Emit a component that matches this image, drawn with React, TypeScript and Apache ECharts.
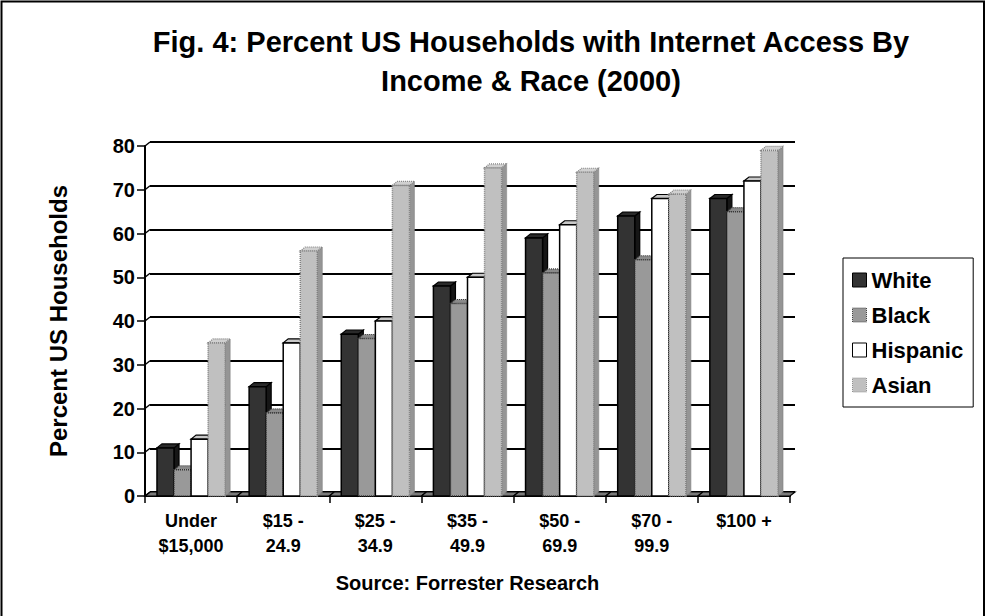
import React, { useEffect, useRef } from "react";
import * as echarts from "echarts";

// Income brackets along the category axis
const CATEGORIES = [
  "Under\n$15,000",
  "$15 -\n24.9",
  "$25 -\n34.9",
  "$35 -\n49.9",
  "$50 -\n69.9",
  "$70 -\n99.9",
  "$100 +",
];

// Percent of households with internet access, per group
const WHITE = [11, 25, 37, 48, 59, 64, 68];
const BLACK = [6, 19, 36, 44, 51, 54, 65];
const HISPANIC = [13, 35, 40, 50, 62, 68, 72];
const ASIAN = [35, 56, 71, 75, 74, 69, 79];

const SERIES_NAMES = ["White", "Black", "Hispanic", "Asian"];
const SERIES_VALUES = [WHITE, BLACK, HISPANIC, ASIAN];

const Y_MIN = 0;
const Y_MAX = 80;
const Y_STEP = 10;
const Y_TICKS: number[] = [];
for (let t = Y_MIN; t <= Y_MAX; t += Y_STEP) Y_TICKS.push(t);

const FONT = '"Liberation Sans", Arial, Helvetica, sans-serif';

// 3D depth of the bars and the back wall
const DX = 5;
const DY = 4;
const BAR_FRAC = 0.185;

type FaceStyle = { fill: string; stroke: string; lineWidth: number; lineDash?: number[] };
type BarStyle = { front: FaceStyle; side: FaceStyle; top: FaceStyle };

const BAR_STYLES: BarStyle[] = [
  {
    front: { fill: "#333333", stroke: "#000000", lineWidth: 1.5 },
    side: { fill: "#161616", stroke: "#000000", lineWidth: 1.2 },
    top: { fill: "#2a2a2a", stroke: "#000000", lineWidth: 1.2 },
  },
  {
    front: { fill: "#999999", stroke: "#333333", lineWidth: 1.5, lineDash: [1, 1] },
    side: { fill: "#6e6e6e", stroke: "#333333", lineWidth: 1.2, lineDash: [1, 1] },
    top: { fill: "#8a8a8a", stroke: "#333333", lineWidth: 1.2, lineDash: [1, 1] },
  },
  {
    front: { fill: "#ffffff", stroke: "#000000", lineWidth: 1.5 },
    side: { fill: "#e6e6e6", stroke: "#000000", lineWidth: 1.2 },
    top: { fill: "#c8c8c8", stroke: "#000000", lineWidth: 1.2 },
  },
  {
    front: { fill: "#c0c0c0", stroke: "#808080", lineWidth: 1.5, lineDash: [1, 1] },
    side: { fill: "#959595", stroke: "#808080", lineWidth: 1.2, lineDash: [1, 1] },
    top: { fill: "#d0d0d0", stroke: "#808080", lineWidth: 1.2, lineDash: [1, 1] },
  },
];

const LEGEND_ICON_STYLES = [
  { color: "#333333", borderColor: "#000000", borderWidth: 1 },
  { color: "#999999", borderColor: "#444444", borderWidth: 1, borderType: "dotted" },
  { color: "#ffffff", borderColor: "#000000", borderWidth: 1 },
  { color: "#c0c0c0", borderColor: "#909090", borderWidth: 1, borderType: "dotted" },
];

function makeBarRenderer(seriesIdx: number) {
  const st = BAR_STYLES[seriesIdx];
  return (params: any, api: any) => {
    const ci = api.value(0);
    const v = api.value(1);
    const base = api.coord([ci, 0]);
    const top = api.coord([ci, v]);
    const band = api.size([1, 0])[0];
    const w = band * BAR_FRAC;
    const groupLeft = base[0] - band / 2 + (band - 4 * w) / 2;
    const x0 = groupLeft + seriesIdx * w;
    const x1 = x0 + w;
    const yb = base[1];
    const yt = top[1];
    return {
      type: "group",
      children: [
        {
          type: "polygon",
          shape: { points: [[x1, yb], [x1 + DX, yb - DY], [x1 + DX, yt - DY], [x1, yt]] },
          style: st.side,
        },
        {
          type: "polygon",
          shape: { points: [[x0, yt], [x1, yt], [x1 + DX, yt - DY], [x0 + DX, yt - DY]] },
          style: st.top,
        },
        {
          type: "rect",
          shape: { x: x0, y: yt, width: w, height: yb - yt },
          style: st.front,
        },
      ],
    };
  };
}

// Floor slab seen between the bar groups
function renderFloor(params: any, api: any) {
  const ci = api.value(0);
  const base = api.coord([ci, 0]);
  const band = api.size([1, 0])[0];
  const x0 = base[0] - band / 2;
  const x1 = base[0] + band / 2;
  const y = base[1];
  return {
    type: "polygon",
    shape: { points: [[x0, y], [x1, y], [x1 + DX, y - DY], [x0 + DX, y - DY]] },
    style: { fill: "#7a7a7a", stroke: "#000000", lineWidth: 1.2 },
  };
}

// Short slanted edge joining each front tick to its gridline on the back wall
function renderWallEdge(params: any, api: any) {
  const v = api.value(1);
  const p = api.coord([0, v]);
  const band = api.size([1, 0])[0];
  const x = p[0] - band / 2;
  return {
    type: "line",
    shape: { x1: x, y1: p[1], x2: x + DX, y2: p[1] - DY },
    style: { stroke: "#000", lineWidth: 1.5 },
  };
}

export default function App() {
  const ref = useRef<HTMLDivElement>(null);

  useEffect(() => {
    document.body.style.margin = "0";
    if (!ref.current) return;
    const chart = echarts.init(ref.current, null, { renderer: "svg" });

    const barSeries = SERIES_NAMES.map((name, si) => ({
      name,
      type: "custom",
      xAxisIndex: 0,
      yAxisIndex: 0,
      z: 3,
      itemStyle: LEGEND_ICON_STYLES[si],
      renderItem: makeBarRenderer(si),
      encode: { x: 0, y: 1 },
      data: SERIES_VALUES[si].map((v, i) => [i, v]),
    }));

    chart.setOption({
      animation: false,
      backgroundColor: "#ffffff",
      textStyle: { fontFamily: FONT },
      grid: [
        { left: 145, right: 195, top: 146, bottom: 120 },
        { left: 145 + DX, right: 195 - DX, top: 146 - DY, bottom: 120 + DY },
      ],
      xAxis: [
        {
          type: "category",
          gridIndex: 0,
          data: CATEGORIES,
          boundaryGap: true,
          axisLine: { show: true, lineStyle: { color: "#000", width: 2 } },
          axisTick: { show: true, length: 7, lineStyle: { color: "#000", width: 1.5 } },
          axisLabel: {
            interval: 0,
            margin: 12,
            color: "#000",
            fontFamily: FONT,
            fontWeight: "bold",
            fontSize: 18,
            lineHeight: 25,
          },
          name: "Source: Forrester Research",
          nameLocation: "middle",
          nameGap: 77,
          nameTextStyle: { color: "#000", fontFamily: FONT, fontWeight: "bold", fontSize: 20 },
        },
        {
          type: "category",
          gridIndex: 1,
          data: CATEGORIES,
          show: false,
        },
      ],
      yAxis: [
        {
          type: "value",
          gridIndex: 0,
          min: Y_MIN,
          max: Y_MAX,
          interval: Y_STEP,
          axisLine: { show: true, lineStyle: { color: "#000", width: 2 } },
          axisTick: { show: true, length: 8, lineStyle: { color: "#000", width: 1.5 } },
          axisLabel: {
            margin: 10,
            color: "#000",
            fontFamily: FONT,
            fontWeight: "bold",
            fontSize: 20,
          },
          splitLine: { show: false },
          name: "Percent US Households",
          nameLocation: "middle",
          nameRotate: 90,
          nameGap: 75,
          nameTextStyle: { color: "#000", fontFamily: FONT, fontWeight: "bold", fontSize: 24 },
        },
        {
          type: "value",
          gridIndex: 1,
          min: Y_MIN,
          max: Y_MAX,
          interval: Y_STEP,
          axisLine: { show: false },
          axisTick: { show: false },
          axisLabel: { show: false },
          splitLine: { show: true, lineStyle: { color: "#000", width: 1.8 } },
        },
      ],
      legend: {
        orient: "vertical",
        left: 843,
        top: 258,
        icon: "rect",
        itemWidth: 14,
        itemHeight: 14,
        itemGap: 13,
        padding: [11, 10, 11, 9],
        borderColor: "#000",
        borderWidth: 1,
        selectedMode: false,
        textStyle: {
          color: "#000",
          fontFamily: FONT,
          fontWeight: "bold",
          fontSize: 22,
          lineHeight: 22,
        },
        data: SERIES_NAMES.map((name, i) => ({ name, itemStyle: LEGEND_ICON_STYLES[i] })),
      },
      graphic: [
        {
          type: "rect",
          silent: true,
          z: 100,
          shape: { x: 1.5, y: 1.5, width: 982.5, height: 640 },
          style: { fill: "none", stroke: "#000", lineWidth: 2 },
        },
        {
          type: "text",
          x: 531,
          y: 61,
          z: 100,
          style: {
            text: "Fig. 4: Percent US Households with Internet Access By\nIncome & Race (2000)",
            font: `bold 29px ${FONT}`,
            fill: "#000",
            textAlign: "center",
            textVerticalAlign: "middle",
            lineHeight: 39,
          },
        },
      ],
      series: [
        {
          name: "floor",
          type: "custom",
          xAxisIndex: 0,
          yAxisIndex: 0,
          z: 2,
          silent: true,
          renderItem: renderFloor,
          encode: { x: 0 },
          data: CATEGORIES.map((_, i) => [i]),
        },
        {
          name: "wall",
          type: "custom",
          xAxisIndex: 0,
          yAxisIndex: 0,
          z: 2,
          silent: true,
          renderItem: renderWallEdge,
          encode: { x: 0, y: 1 },
          data: Y_TICKS.map((t) => [0, t]),
        },
        ...barSeries,
      ],
    });

    return () => chart.dispose();
  }, []);

  return (
    <div
      ref={ref}
      style={{ position: "absolute", left: 0, top: 0, width: 985, height: 616 }}
    />
  );
}
